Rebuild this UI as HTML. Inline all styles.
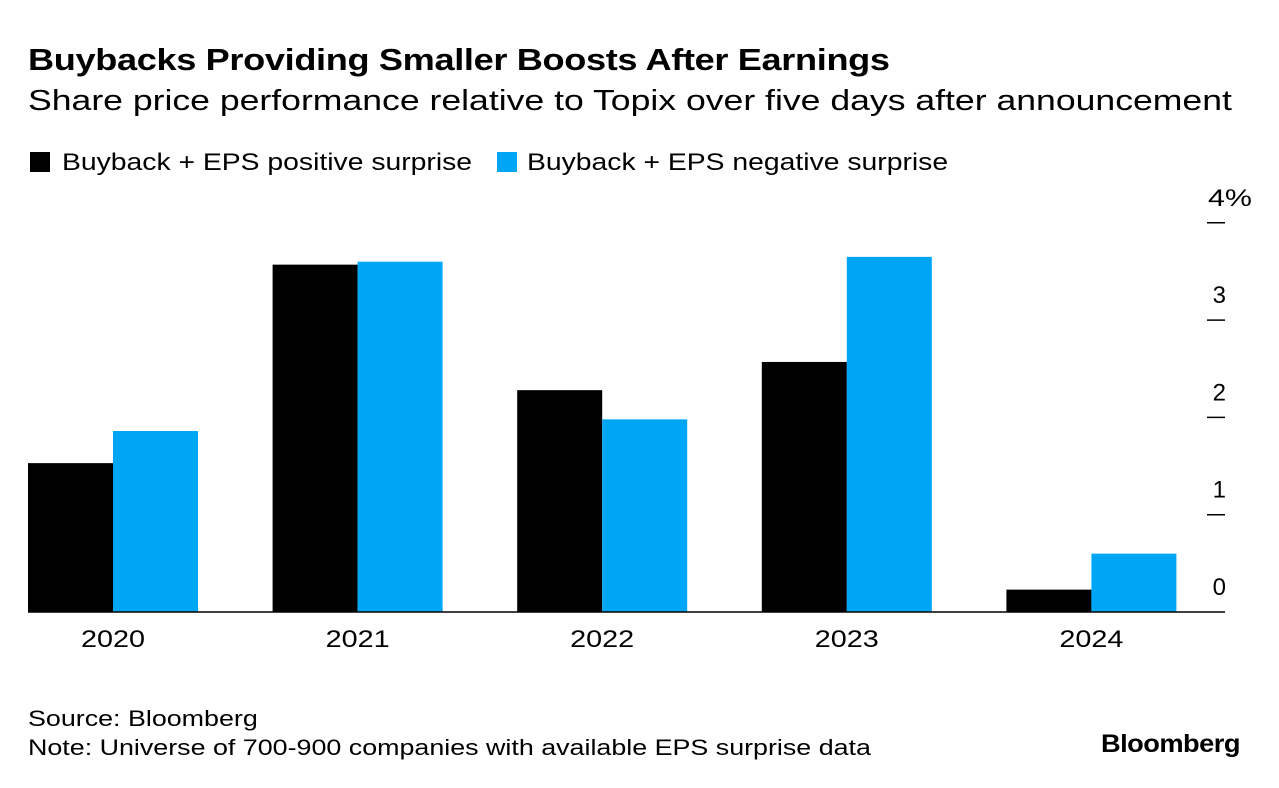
<!DOCTYPE html>
<html><head><meta charset="utf-8"><style>
body{margin:0;background:#fff;font-family:"Liberation Sans",Arial,sans-serif;}
#wrap{position:relative;width:1279px;height:788px;overflow:hidden;}
.t{position:absolute;white-space:nowrap;color:#000;transform-origin:0 50%;}
</style></head><body>
<div id="wrap">
<div class="t" style="left:28px;top:42px;font-size:31px;font-weight:bold;letter-spacing:-0.3px;transform:scaleX(1.166)">Buybacks Providing Smaller Boosts After Earnings</div>
<div class="t" style="left:28px;top:85px;font-size:29px;transform:scaleX(1.227)">Share price performance relative to Topix over five days after announcement</div>
<div class="t" style="left:30px;top:149px;font-size:24px"><span style="display:inline-block;width:20px;height:20px;background:#000;vertical-align:-2px;margin-right:12px"></span><span style="display:inline-block;transform:scaleX(1.18);transform-origin:0 50%">Buyback + EPS positive surprise</span></div>
<div class="t" style="left:497px;top:149px;font-size:24px"><span style="display:inline-block;width:20px;height:20px;background:#00a6f6;vertical-align:-2px;margin-right:10px"></span><span style="display:inline-block;transform:scaleX(1.18);transform-origin:0 50%">Buyback + EPS negative surprise</span></div>
<svg id="chart" width="1279" height="788" style="position:absolute;left:0;top:0"></svg>
<div class="t" style="left:28px;top:706px;font-size:22px;transform:scaleX(1.22)">Source: Bloomberg</div>
<div class="t" style="left:28px;top:735px;font-size:22px;transform:scaleX(1.22)">Note: Universe of 700-900 companies with available EPS surprise data</div>
<div class="t" style="left:1101px;top:730px;font-size:25px;font-weight:bold;letter-spacing:-0.5px;transform:scaleX(1.09)">Bloomberg</div>
</div>
<script>
const categories=["2020","2021","2022","2023","2024"];
const positive=[1.53,3.57,2.28,2.57,0.23];
const negative=[1.86,3.60,1.98,3.65,0.60];
const ticks=[0,1,2,3,4];
const tickLabels=["0","1","2","3","4%"];
const NS="http://www.w3.org/2000/svg";
const svg=document.getElementById('chart');
const y0=612,unit=97.3,x0=28,groupW=244.6,barW=85;
const y=v=>y0-v*unit;
const xg=i=>x0+i*groupW;
function mk(tag,attrs){const e=document.createElementNS(NS,tag);for(const k in attrs)e.setAttribute(k,attrs[k]);svg.appendChild(e);return e;}
categories.forEach((c,i)=>{
 let r=mk('rect',{x:xg(i),y:y(positive[i]),width:barW,height:positive[i]*unit,fill:'#000'});
 
 
 let b=mk('rect',{x:xg(i)+barW,y:y(negative[i]),width:barW,height:negative[i]*unit,fill:'#00a6f6'});
 
 
 let t=mk('text',{x:xg(i)+barW-32,y:647,'font-size':24,textLength:64,lengthAdjust:'spacingAndGlyphs','font-family':'Liberation Sans, Arial, sans-serif'});
 t.textContent=c;
 
 
});
ticks.forEach((v,i)=>{
 if(v>0){let l=mk('line',{x1:1207,x2:1225,y1:y(v),y2:y(v),stroke:'#000','stroke-width':1.5});
 
 }
 const last=i===ticks.length-1;
 let t=mk('text',{x:last?1208:1226,y:y(v)-17,'text-anchor':last?'start':'end','font-size':24,'font-family':'Liberation Sans, Arial, sans-serif'});
 if(last){t.setAttribute('textLength',44);t.setAttribute('lengthAdjust','spacingAndGlyphs');}
 t.textContent=tickLabels[i];
 
 
});
let base=mk('line',{x1:28,x2:1225,y1:y0,y2:y0,stroke:'#000','stroke-width':1.5});


</script>
</body></html>
